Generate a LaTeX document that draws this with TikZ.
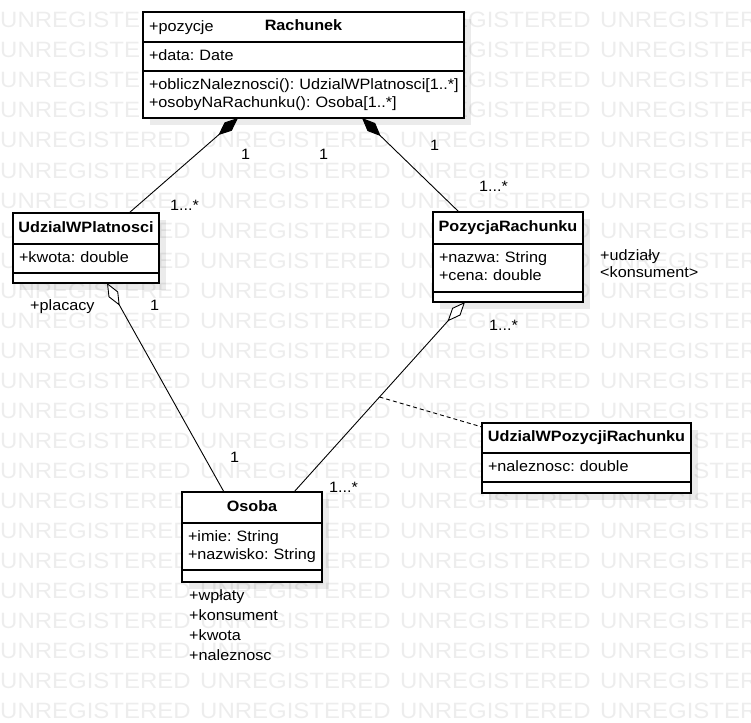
\documentclass[tikz,border=0pt]{standalone}
\usepackage{fontspec}
\setmainfont{Liberation Sans}[FakeStretch=1.08]
\usetikzlibrary{arrows.meta,positioning}
\frenchspacing

\newcommand{\umlstrut}{\rule[-3.5pt]{0pt}{12.5pt}}

\tikzset{
  classtitle/.style={draw, fill=white, line width=1.1pt, outer sep=0pt, inner sep=0pt,
    font=\fontsize{15}{18.3}\selectfont\bfseries, execute at begin node=\umlstrut},
  classpart/.style={draw, fill=white, line width=1.1pt, outer sep=0pt, inner xsep=6pt, inner ysep=0pt,
    align=left, font=\fontsize{15}{18.3}\selectfont,
    execute at begin node=\umlstrut, execute at end node=\umlstrut},
  classempty/.style={draw, fill=white, line width=1.1pt, outer sep=0pt, inner sep=0pt, minimum height=10pt},
  shadowbox/.style={fill=black, opacity=0.08},
  lbl/.style={anchor=base west, inner sep=0pt, font=\fontsize{15}{18.3}\selectfont},
  watermark/.style={anchor=base west, inner sep=0pt, text=black!7, font=\fontsize{22.2}{22.2}\selectfont},
  composition/.style={{Diamond[length=26pt,width=11pt]}-, line width=0.9pt},
  aggregation/.style={{Diamond[fill=white,length=26pt,width=11pt]}-, line width=0.9pt},
  assocline/.style={line width=0.9pt, dash pattern=on 4pt off 3pt},
}

\begin{document}
\begin{tikzpicture}[x=1pt, y=-1pt]
    \useasboundingbox (0,0) rectangle (751,722);

    % Watermark
    \foreach \r in {0,...,23}
      \foreach \c in {0,...,3}
        \node[watermark] (wm-\r-\c) at ({200*\c}, {28+30*\r}) {UNREGISTERED};

    % Shadows
    \fill[shadowbox] (150,19) rectangle (471,125);
    \fill[shadowbox] (20,220) rectangle (166,290);
    \fill[shadowbox] (440,219) rectangle (590,309);
    \fill[shadowbox] (189,499) rectangle (329,589);
    \fill[shadowbox] (489,430) rectangle (698,500);

    % Rachunek
    \node[classtitle, minimum width=321pt, minimum height=30pt, anchor=north west] (rach) at (143,12) {Rachunek};
    \node[classpart, text width=309pt, minimum height=29pt, below=0pt of rach] (rachAttr) {+data: Date};
    \node[classpart, text width=309pt, minimum height=47pt, below=0pt of rachAttr] (rachOps)
        {\mbox{+obliczNaleznosci(): UdzialWPlatnosci[1..*]}\\+osobyNaRachunku(): Osoba[1..*]};
    \node[lbl] (pozycjeLbl) at (149,32) {+pozycje};

    % UdzialWPlatnosci
    \node[classtitle, minimum width=146pt, minimum height=31pt, anchor=north west] (udzial) at (13,213) {UdzialWPlatnosci};
    \node[classpart, text width=134pt, minimum height=29pt, below=0pt of udzial] (udzialAttr) {+kwota: double};
    \node[classempty, minimum width=146pt, below=0pt of udzialAttr] (udzialOps) {};

    % PozycjaRachunku
    \node[classtitle, minimum width=150pt, minimum height=32pt, anchor=north west] (poz) at (433,212) {PozycjaRachunku};
    \node[classpart, text width=138pt, minimum height=48pt, below=0pt of poz] (pozAttr) {+nazwa: String\\+cena: double};
    \node[classempty, minimum width=150pt, below=0pt of pozAttr] (pozOps) {};

    % Osoba
    \node[classtitle, minimum width=140pt, minimum height=31pt, anchor=north west] (osoba) at (182,492) {Osoba};
    \node[classpart, text width=128pt, minimum height=47pt, below=0pt of osoba] (osobaAttr) {+imie: String\\\mbox{+nazwisko: String}};
    \node[classempty, minimum width=140pt, minimum height=12pt, below=0pt of osobaAttr] (osobaOps) {};

    % UdzialWPozycjiRachunku
    \node[classtitle, minimum width=209pt, minimum height=30pt, anchor=north west] (uwpr) at (482,423) {UdzialWPozycjiRachunku};
    \node[classpart, text width=197pt, minimum height=29pt, below=0pt of uwpr] (uwprAttr) {+naleznosc: double};
    \node[classempty, minimum width=209pt, minimum height=11pt, below=0pt of uwprAttr] (uwprOps) {};

    % Associations
    \draw[composition] ([xshift=95pt]rachOps.south west) -- ([xshift=116pt]udzial.north west);
    \draw[composition] ([xshift=219pt]rachOps.south west) -- ([xshift=26pt]poz.north west);
    \draw[aggregation] ([xshift=94pt]udzialOps.south west) -- ([xshift=42pt]osoba.north west);
    \draw[aggregation] ([xshift=32pt]pozOps.south west) -- coordinate[pos=0.5] (assocMid) ([xshift=112pt]osoba.north west);
    \draw[assocline] (assocMid) -- ([yshift=-4pt]uwpr.north west);

    % Multiplicities and roles
    \node[lbl] (mRU1) at (241,160) {1};
    \node[lbl] (mMid1) at (319,160) {1};
    \node[lbl] (mRP1) at (430,150) {1};
    \node[lbl] (mRUn) at (170,210) {1...*};
    \node[lbl] (mRPn) at (479,191) {1...*};
    \node[lbl] (placacy) at (30,310) {+placacy};
    \node[lbl] (mUO1) at (150,310) {1};
    \node[lbl] (udzialy) at (600,260) {+udziały};
    \node[lbl] (konsument) at (600,277) {<konsument>};
    \node[lbl] (mPOn) at (489,330) {1...*};
    \node[lbl] (mOU1) at (230,462) {1};
    \node[lbl] (mOPn) at (329,492) {1...*};

    % Osoba roles
    \node[lbl] (wplaty) at (189,600) {+wpłaty};
    \node[lbl] (konsRole) at (189,620) {+konsument};
    \node[lbl] (kwotaRole) at (189,640) {+kwota};
    \node[lbl] (nalRole) at (189,660) {+naleznosc};
\end{tikzpicture}
\end{document}
